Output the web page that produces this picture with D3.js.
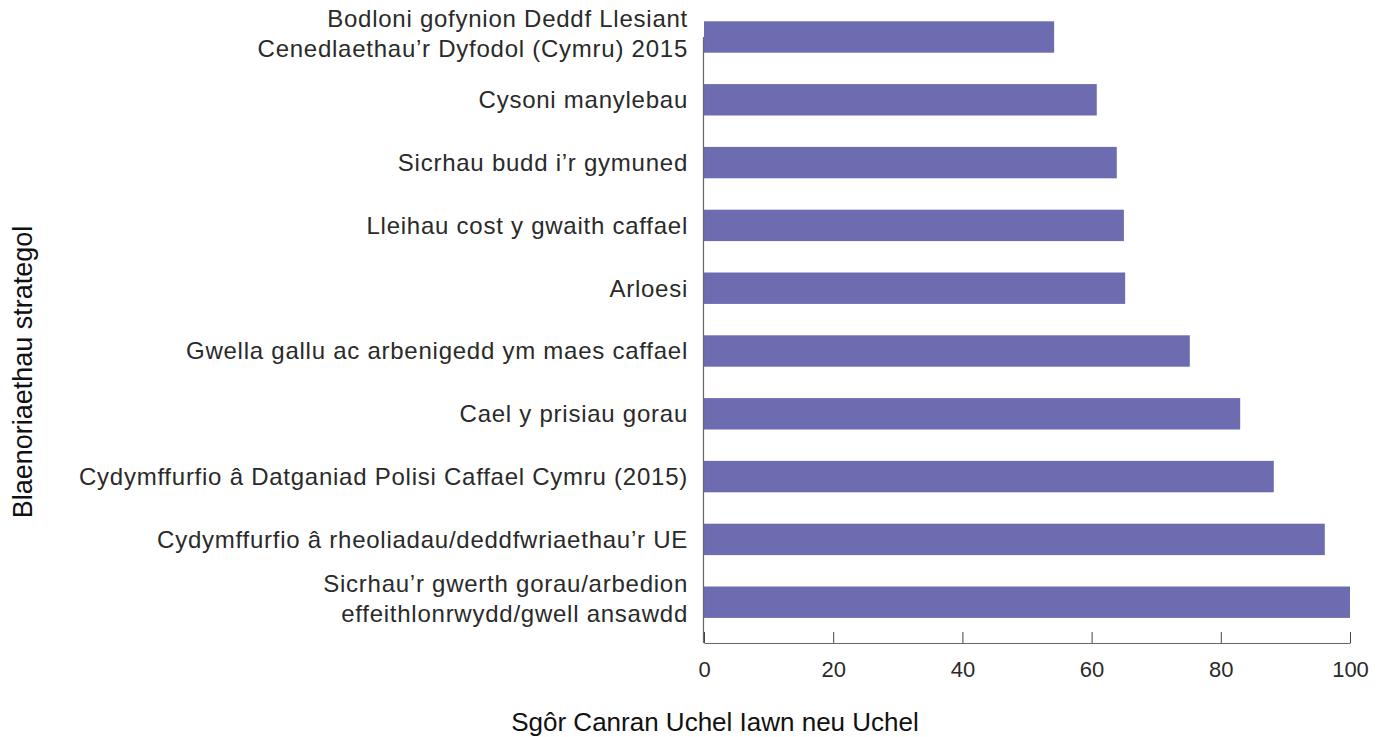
<!DOCTYPE html>
<html>
<head>
<meta charset="utf-8">
<script src="https://cdn.jsdelivr.net/npm/d3@7"></script>
<style>
  body { margin: 0; background: #fff; }
  text { font-family: "Liberation Sans", Arial, sans-serif; }
</style>
</head>
<body>
<script>
const width = 1389;
const height = 737;

// categories top to bottom, lines split where the label wraps
const categories = [
  ['Bodloni gofynion Deddf Llesiant', 'Cenedlaethau\u2019r Dyfodol (Cymru) 2015'],
  ['Cysoni manylebau'],
  ['Sicrhau budd i\u2019r gymuned'],
  ['Lleihau cost y gwaith caffael'],
  ['Arloesi'],
  ['Gwella gallu ac arbenigedd ym maes caffael'],
  ['Cael y prisiau gorau'],
  ['Cydymffurfio \u00e2 Datganiad Polisi Caffael Cymru (2015)'],
  ['Cydymffurfio \u00e2 rheoliadau/deddfwriaethau\u2019r UE'],
  ['Sicrhau\u2019r gwerth gorau/arbedion', 'effeithlonrwydd/gwell ansawdd']
];
const values = [54.2, 60.8, 63.9, 65.0, 65.2, 75.2, 83.0, 88.2, 96.1, 100];
const xTicks = [0, 20, 40, 60, 80, 100];
const xTitle = 'Sg\u00f4r Canran Uchel Iawn neu Uchel';
const yTitle = 'Blaenoriaethau strategol';

const svg = d3.select('body').append('svg')
  .attr('width', width)
  .attr('height', height);

const x = d3.scaleLinear().domain([0, 100]).range([704, 1350]);
const y = d3.scaleBand()
  .domain(d3.range(categories.length))
  .range([5.6, 633.6])
  .paddingInner(0.5)
  .paddingOuter(0.25);

const axisY = 643;

// bars
svg.append('g').selectAll('rect')
  .data(values)
  .enter().append('rect')
    .attr('x', x(0))
    .attr('y', (d, i) => y(i))
    .attr('width', d => x(d) - x(0))
    .attr('height', y.bandwidth())
    .attr('fill', '#6d6cb0');

// y axis line (starts at first band centre)
svg.append('line')
  .attr('x1', x(0) - 0.5).attr('x2', x(0) - 0.5)
  .attr('y1', y(0) + y.bandwidth() / 2).attr('y2', axisY)
  .attr('stroke', '#666').attr('stroke-width', 1.2);

// x axis
const xAxis = svg.append('g')
  .attr('transform', `translate(0,${axisY})`)
  .call(d3.axisBottom(x).tickValues(xTicks).tickSize(-11).tickSizeOuter(0).tickPadding(0));
xAxis.select('.domain').attr('stroke', '#666').attr('stroke-width', 1.2);
xAxis.selectAll('.tick line').attr('stroke', '#444');
xAxis.selectAll('.tick text')
  .attr('font-size', 22)
  .attr('fill', '#2a2a2a')
  .attr('y', 34)
  .attr('dy', 0);

// category labels
const fs = 24;
const labels = svg.append('g').selectAll('text')
  .data(categories)
  .enter().append('text')
    .attr('x', 688)
    .attr('y', (d, i) => y(i) + y.bandwidth() / 2)
    .attr('text-anchor', 'end')
    .attr('font-size', fs)
    .attr('letter-spacing', 0.75)
    .attr('fill', '#2a2a2a');

labels.each(function (d) {
  const t = d3.select(this);
  const lh = 29.5;
  d.forEach((line, k) => {
    t.append('tspan')
      .attr('x', 688)
      .attr('dy', k === 0 ? (0.35 * fs - (d.length - 1) * 18.4) : lh)
      .text(line);
  });
});

// axis titles
svg.append('text')
  .attr('x', 715)
  .attr('y', 731)
  .attr('text-anchor', 'middle')
  .attr('font-size', 26)
  .attr('fill', '#111')
  .text(xTitle);

svg.append('text')
  .attr('transform', 'translate(32,372) rotate(-90)')
  .attr('text-anchor', 'middle')
  .attr('font-size', 27)
  .attr('fill', '#111')
  .text(yTitle);
</script>
</body>
</html>
